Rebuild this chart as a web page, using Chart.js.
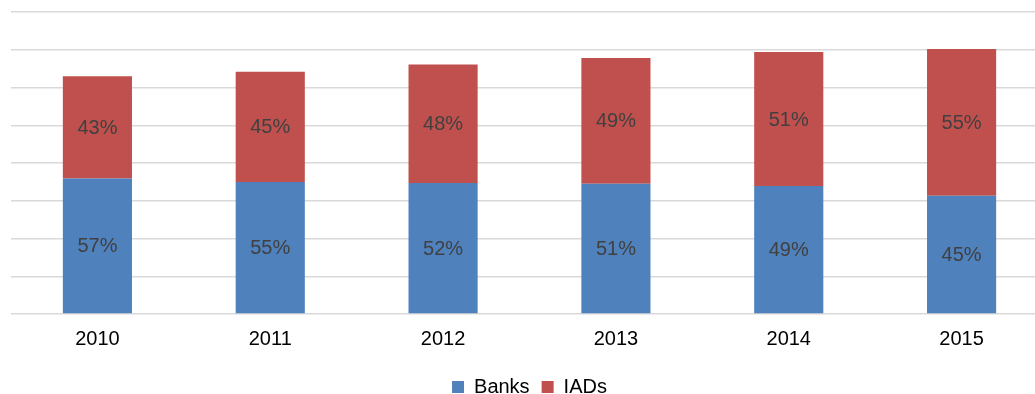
<!DOCTYPE html>
<html>
<head>
<meta charset="utf-8">
<script src="https://cdn.jsdelivr.net/npm/chart.js@4.4.1/dist/chart.umd.min.js"></script>
<style>
    html, body { margin: 0; padding: 0; background: #fff; overflow: hidden; }
    #wrap { width: 1060px; height: 394px; }
</style>
</head>
<body>
<div id="wrap"><canvas id="share-chart" width="1060" height="394"></canvas></div>
<script>
const years = ['2010', '2011', '2012', '2013', '2014', '2015'];
const banksValues = [3.59, 3.50, 3.47, 3.45, 3.39, 3.13];
const iadsValues = [2.71, 2.92, 3.14, 3.33, 3.55, 3.89];
const banksShare = ['57%', '55%', '52%', '51%', '49%', '45%'];
const iadsShare = ['43%', '45%', '48%', '49%', '51%', '55%'];

const FONT = '"Liberation Sans", Arial, sans-serif';

// draws the share labels in the middle of each bar segment
const segmentLabels = {
    id: 'segmentLabels',
    afterDatasetsDraw(chart) {
        const ctx = chart.ctx;
        const shares = [banksShare, iadsShare];
        ctx.save();
        ctx.font = '20px ' + FONT;
        ctx.fillStyle = '#404040';
        ctx.textAlign = 'center';
        ctx.textBaseline = 'middle';
        chart.data.datasets.forEach((ds, i) => {
            const meta = chart.getDatasetMeta(i);
            meta.data.forEach((bar, j) => {
                const y = (bar.y + bar.base) / 2 + 1;
                ctx.fillText(shares[i][j], bar.x, y);
            });
        });
        ctx.restore();
    }
};

new Chart('share-chart', {
    type: 'bar',
    data: {
        labels: years,
        datasets: [
            { label: 'Banks', data: banksValues, backgroundColor: '#4f81bd' },
            { label: 'IADs', data: iadsValues, backgroundColor: '#c0504d' }
        ]
    },
    options: {
        responsive: false,
        animation: false,
        layout: { padding: { left: 11, right: 12, top: 12, bottom: -13 } },
        datasets: { bar: { barPercentage: 0.4, categoryPercentage: 1 } },
        scales: {
            x: {
                stacked: true,
                grid: { display: false },
                border: { display: false },
                ticks: { color: '#000', font: { family: FONT, size: 20 }, padding: 5 },
                // extra room under the year labels, above the legend
                afterFit: scale => { scale.height += 9; }
            },
            y: {
                stacked: true,
                min: 0,
                max: 8,
                ticks: { display: false, stepSize: 1 },
                grid: { color: '#d9d9d9', lineWidth: 1.5, drawTicks: false },
                border: { display: false }
            }
        },
        plugins: {
            legend: {
                position: 'bottom',
                labels: {
                    color: '#000',
                    font: { family: FONT, size: 20 },
                    boxWidth: 12,
                    boxHeight: 12,
                    padding: 12
                }
            },
            tooltip: { enabled: false }
        }
    },
    plugins: [segmentLabels]
});
</script>
</body>
</html>
